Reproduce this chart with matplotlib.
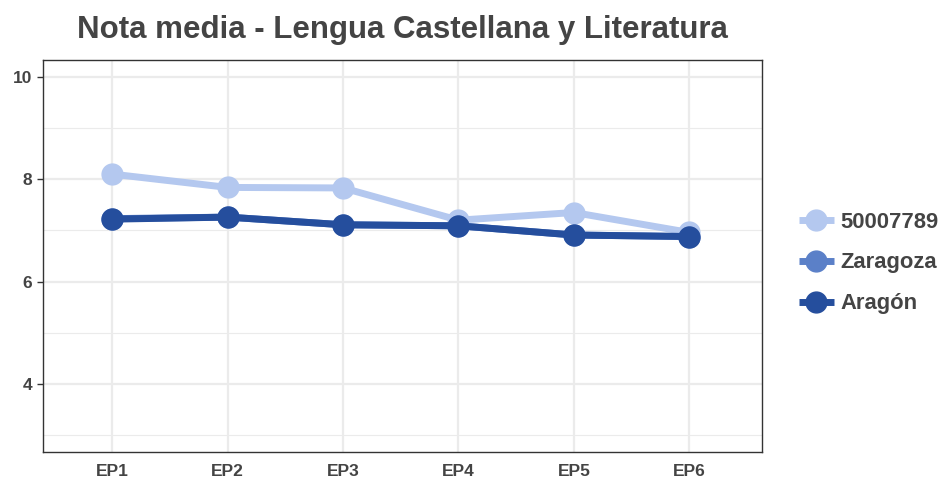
import matplotlib.pyplot as plt
from matplotlib.ticker import MultipleLocator

plt.rcParams['font.family'] = ['Liberation Sans', 'DejaVu Sans']

pruebas = ['EP1', 'EP2', 'EP3', 'EP4', 'EP5', 'EP6']
centro = [8.10, 7.84, 7.83, 7.20, 7.35, 6.96]
zaragoza = [7.23, 7.26, 7.11, 7.09, 6.91, 6.88]
aragon = [7.22, 7.26, 7.11, 7.09, 6.91, 6.88]

series = [
    ('50007789', centro, '#b4c8ef'),
    ('Zaragoza', zaragoza, '#5b80c8'),
    ('Aragón', aragon, '#254e9d'),
]

fig = plt.figure(figsize=(9.44, 4.79), dpi=100)
ax = fig.add_axes([43 / 944, 27 / 479, 719 / 944, 392 / 479])

x = list(range(1, len(pruebas) + 1))
for name, vals, col in series:
    ax.plot(x, vals, color=col, lw=5, marker='o', ms=15,
            solid_capstyle='butt', label=name)

ax.set_xlim(0.4, 6.63)
ax.set_ylim(2.67, 10.33)
ax.set_xticks(x)
ax.set_xticklabels(pruebas)
ax.yaxis.set_major_locator(MultipleLocator(2))
ax.yaxis.set_minor_locator(MultipleLocator(1))
ax.set_yticks([4, 6, 8, 10])

ax.grid(which='major', color='#ebebeb', lw=1.6)
ax.grid(which='minor', axis='y', color='#ebebeb', lw=0.8)
ax.set_axisbelow(True)

for s in ax.spines.values():
    s.set_color('#333333')
    s.set_linewidth(1.0)

ax.tick_params(axis='x', length=0, pad=9, labelsize=12.5, labelcolor='#444444')
ax.tick_params(axis='y', which='major', length=4, width=1, color='#333333',
               pad=4, labelsize=12.5, labelcolor='#444444')
ax.tick_params(axis='y', which='minor', length=0)
for lab in ax.get_xticklabels() + ax.get_yticklabels():
    lab.set_fontweight('bold')

fig.text(0.426, 0.937, 'Nota media - Lengua Castellana y Literatura',
         ha='center', va='center', fontsize=22.5, fontweight='bold', color='#444444')

leg = fig.legend(loc='center left', bbox_to_anchor=(0.825, 0.451), frameon=False,
                 prop={'weight': 'bold', 'size': 15.8}, labelcolor='#444444',
                 handlelength=1.6, handletextpad=0.3, labelspacing=0.9,
                 markerscale=1.0)

fig.savefig('out.png', dpi=100)
